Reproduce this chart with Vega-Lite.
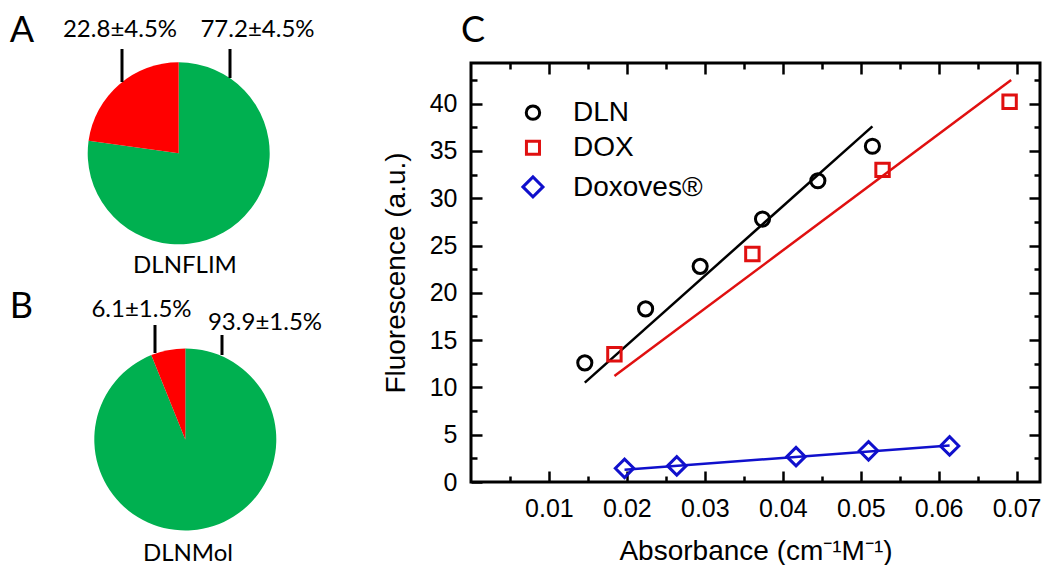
{
  "$schema": "https://vega.github.io/schema/vega-lite/v6.json",
  "padding": 0,
  "background": "white",
  "bounds": "flush",
  "center": true,
  "spacing": 131,
  "resolve": {"scale": {"color": "independent", "shape": "independent", "size": "independent", "stroke": "independent", "x": "independent", "y": "independent"}, "legend": {"color": "independent", "shape": "independent", "size": "independent", "stroke": "independent"}},
  "datasets": {
    "pies": [
      {"panel": "A", "name": "DLNFLIM", "state": "major", "value": 77.2, "label": "77.2±4.5%"},
      {"panel": "A", "name": "DLNFLIM", "state": "minor", "value": 22.8, "label": "22.8±4.5%"},
      {"panel": "B", "name": "DLNMol", "state": "major", "value": 93.9, "label": "93.9±1.5%"},
      {"panel": "B", "name": "DLNMol", "state": "minor", "value": 6.1, "label": "6.1±1.5%"}
    ],
    "points": [
      {"series": "DLN", "absorbance": 0.0146, "fluorescence": 12.6},
      {"series": "DLN", "absorbance": 0.0224, "fluorescence": 18.3},
      {"series": "DLN", "absorbance": 0.0294, "fluorescence": 22.8},
      {"series": "DLN", "absorbance": 0.0374, "fluorescence": 27.8},
      {"series": "DLN", "absorbance": 0.0445, "fluorescence": 31.85},
      {"series": "DLN", "absorbance": 0.0515, "fluorescence": 35.5},
      {"series": "DOX", "absorbance": 0.0184, "fluorescence": 13.5},
      {"series": "DOX", "absorbance": 0.0361, "fluorescence": 24.1},
      {"series": "DOX", "absorbance": 0.0528, "fluorescence": 33.0},
      {"series": "DOX", "absorbance": 0.0691, "fluorescence": 40.2},
      {"series": "Doxoves®", "absorbance": 0.0197, "fluorescence": 1.45},
      {"series": "Doxoves®", "absorbance": 0.0264, "fluorescence": 1.7},
      {"series": "Doxoves®", "absorbance": 0.0417, "fluorescence": 2.68},
      {"series": "Doxoves®", "absorbance": 0.0510, "fluorescence": 3.3},
      {"series": "Doxoves®", "absorbance": 0.0614, "fluorescence": 3.81}
    ],
    "fits": [
      {"series": "DLN", "absorbance": 0.0146, "fluorescence": 10.5},
      {"series": "DLN", "absorbance": 0.0515, "fluorescence": 37.6},
      {"series": "DOX", "absorbance": 0.0184, "fluorescence": 11.2},
      {"series": "DOX", "absorbance": 0.0693, "fluorescence": 42.5},
      {"series": "Doxoves®", "absorbance": 0.0197, "fluorescence": 1.3},
      {"series": "Doxoves®", "absorbance": 0.0614, "fluorescence": 3.85}
    ]
  },
  "hconcat": [
    {
      "width": 340,
      "height": 545,
      "view": {"stroke": null},
      "data": {"name": "pies"},
      "layer": [
        {
          "transform": [{"filter": "datum.panel == 'A'"}],
          "mark": {"type": "arc", "outerRadius": 91},
          "encoding": {
            "theta": {"field": "value", "type": "quantitative", "stack": true},
            "order": {"field": "value", "type": "quantitative", "sort": "descending"},
            "color": {"field": "state", "type": "nominal", "scale": {"domain": ["major", "minor"], "range": ["#00b050", "#ff0000"]}, "legend": null},
            "x": {"datum": 178.7, "type": "quantitative", "scale": {"domain": [0, 340], "nice": false, "zero": false}, "axis": null},
            "y": {"datum": 153.3, "type": "quantitative", "scale": {"domain": [0, 545], "reverse": true, "nice": false, "zero": false}, "axis": null}
          }
        },
        {
          "transform": [{"filter": "datum.panel == 'B'"}],
          "mark": {"type": "arc", "outerRadius": 91},
          "encoding": {
            "theta": {"field": "value", "type": "quantitative", "stack": true},
            "order": {"field": "value", "type": "quantitative", "sort": "descending"},
            "color": {"field": "state", "type": "nominal", "legend": null},
            "x": {"datum": 185.3, "type": "quantitative"},
            "y": {"datum": 439.5, "type": "quantitative"}
          }
        },
        {
          "transform": [{"filter": "datum.panel == 'A' && datum.state == 'minor'"}],
          "mark": {"type": "text", "font": "Lato", "fontSize": 36, "align": "center", "baseline": "alphabetic", "color": "black"},
          "encoding": {"text": {"field": "panel"}, "x": {"datum": 22, "type": "quantitative"}, "y": {"datum": 42, "type": "quantitative"}}
        },
        {
          "transform": [{"filter": "datum.panel == 'B' && datum.state == 'minor'"}],
          "mark": {"type": "text", "font": "Lato", "fontSize": 36, "align": "center", "baseline": "alphabetic", "color": "black"},
          "encoding": {"text": {"field": "panel"}, "x": {"datum": 21.5, "type": "quantitative"}, "y": {"datum": 318, "type": "quantitative"}}
        },
        {
          "transform": [{"filter": "datum.panel == 'A' && datum.state == 'minor'"}],
          "mark": {"type": "text", "font": "Lato", "fontSize": 36, "align": "center", "baseline": "alphabetic", "color": "black", "text": "C"},
          "encoding": {"x": {"datum": 473, "type": "quantitative"}, "y": {"datum": 42, "type": "quantitative"}}
        },
        {
          "transform": [{"filter": "datum.panel == 'A' && datum.state == 'minor'"}],
          "mark": {"type": "text", "font": "Lato", "fontSize": 24, "align": "center", "baseline": "alphabetic", "color": "black"},
          "encoding": {"text": {"field": "label"}, "x": {"datum": 120, "type": "quantitative"}, "y": {"datum": 37, "type": "quantitative"}}
        },
        {
          "transform": [{"filter": "datum.panel == 'A' && datum.state == 'major'"}],
          "mark": {"type": "text", "font": "Lato", "fontSize": 24, "align": "center", "baseline": "alphabetic", "color": "black"},
          "encoding": {"text": {"field": "label"}, "x": {"datum": 257.5, "type": "quantitative"}, "y": {"datum": 37, "type": "quantitative"}}
        },
        {
          "transform": [{"filter": "datum.panel == 'B' && datum.state == 'minor'"}],
          "mark": {"type": "text", "font": "Lato", "fontSize": 24, "align": "center", "baseline": "alphabetic", "color": "black"},
          "encoding": {"text": {"field": "label"}, "x": {"datum": 141.5, "type": "quantitative"}, "y": {"datum": 317, "type": "quantitative"}}
        },
        {
          "transform": [{"filter": "datum.panel == 'B' && datum.state == 'major'"}],
          "mark": {"type": "text", "font": "Lato", "fontSize": 24, "align": "center", "baseline": "alphabetic", "color": "black"},
          "encoding": {"text": {"field": "label"}, "x": {"datum": 265, "type": "quantitative"}, "y": {"datum": 330, "type": "quantitative"}}
        },
        {
          "transform": [{"filter": "datum.panel == 'A' && datum.state == 'major'"}],
          "mark": {"type": "text", "font": "Lato", "fontSize": 24, "align": "center", "baseline": "alphabetic", "color": "black"},
          "encoding": {"text": {"field": "name"}, "x": {"datum": 185, "type": "quantitative"}, "y": {"datum": 272.5, "type": "quantitative"}}
        },
        {
          "transform": [{"filter": "datum.panel == 'B' && datum.state == 'major'"}],
          "mark": {"type": "text", "font": "Lato", "fontSize": 24, "align": "center", "baseline": "alphabetic", "color": "black"},
          "encoding": {"text": {"field": "name"}, "x": {"datum": 188, "type": "quantitative"}, "y": {"datum": 561, "type": "quantitative"}}
        },
        {
          "transform": [{"filter": "datum.panel == 'A' && datum.state == 'minor'"}],
          "mark": {"type": "rule", "strokeWidth": 3, "color": "black"},
          "encoding": {"x": {"datum": 122, "type": "quantitative"}, "y": {"datum": 49, "type": "quantitative"}, "y2": {"datum": 82}}
        },
        {
          "transform": [{"filter": "datum.panel == 'A' && datum.state == 'major'"}],
          "mark": {"type": "rule", "strokeWidth": 3, "color": "black"},
          "encoding": {"x": {"datum": 230, "type": "quantitative"}, "y": {"datum": 49, "type": "quantitative"}, "y2": {"datum": 78}}
        },
        {
          "transform": [{"filter": "datum.panel == 'B' && datum.state == 'minor'"}],
          "mark": {"type": "rule", "strokeWidth": 3, "color": "black"},
          "encoding": {"x": {"datum": 155, "type": "quantitative"}, "y": {"datum": 325, "type": "quantitative"}, "y2": {"datum": 353}}
        },
        {
          "transform": [{"filter": "datum.panel == 'B' && datum.state == 'major'"}],
          "mark": {"type": "rule", "strokeWidth": 3, "color": "black"},
          "encoding": {"x": {"datum": 222, "type": "quantitative"}, "y": {"datum": 335, "type": "quantitative"}, "y2": {"datum": 355}}
        }
      ]
    },
    {
      "width": 569,
      "height": 419,
      "view": {"stroke": "black", "strokeWidth": 3},
      "resolve": {"axis": {"x": "independent", "y": "independent"}},
      "layer": [
        {
          "data": {"name": "fits"},
          "mark": {"type": "line", "strokeWidth": 2.5},
          "encoding": {
            "x": {"field": "absorbance", "type": "quantitative", "scale": {"domain": [0, 0.073], "nice": false, "zero": false},
              "axis": {"orient": "top", "values": [0.005, 0.01, 0.015, 0.02, 0.025, 0.03, 0.035, 0.04, 0.045, 0.05, 0.055, 0.06, 0.065, 0.07], "domain": false, "grid": false, "labels": false, "title": null, "tickColor": "black", "tickWidth": 2.5,
                "tickSize": {"condition": {"test": "abs(datum.value*100 - round(datum.value*100)) < 0.01", "value": -11}, "value": -6}}},
            "y": {"field": "fluorescence", "type": "quantitative", "scale": {"domain": [0, 44.3], "nice": false, "zero": false},
              "axis": {"orient": "right", "values": [2.5, 5, 7.5, 10, 12.5, 15, 17.5, 20, 22.5, 25, 27.5, 30, 32.5, 35, 37.5, 40, 42.5], "domain": false, "grid": false, "labels": false, "title": null, "tickColor": "black", "tickWidth": 2.5,
                "tickSize": {"condition": {"test": "datum.value % 5 == 0", "value": -11}, "value": -6}}},
            "stroke": {"field": "series", "type": "nominal", "scale": {"domain": ["DLN", "DOX", "Doxoves®"], "range": ["#000000", "#e01010", "#1010cc"]}, "legend": null}
          }
        },
        {
          "data": {"name": "points"},
          "mark": {"type": "point", "filled": false, "strokeWidth": 3, "opacity": 1},
          "encoding": {
            "x": {"field": "absorbance", "type": "quantitative",
              "axis": {"orient": "bottom", "values": [0.005, 0.01, 0.015, 0.02, 0.025, 0.03, 0.035, 0.04, 0.045, 0.05, 0.055, 0.06, 0.065, 0.07], "domain": false, "grid": false, "tickColor": "black", "tickWidth": 2.5,
                "tickSize": {"condition": {"test": "abs(datum.value*100 - round(datum.value*100)) < 0.01", "value": -11}, "value": -6},
                "labelExpr": "abs(datum.value*100 - round(datum.value*100)) < 0.01 ? format(datum.value, '.2f') : ''",
                "labelFont": "Liberation Sans", "labelFontSize": 25, "labelColor": "black", "labelPadding": 25, "labelOverlap": false, "labelFlush": false,
                "title": "Absorbance (cm⁻¹M⁻¹)", "titleFont": "Liberation Sans", "titleFontSize": 28, "titleFontWeight": "normal", "titleColor": "black", "titlePadding": 11}},
            "y": {"field": "fluorescence", "type": "quantitative",
              "axis": {"orient": "left", "values": [0, 2.5, 5, 7.5, 10, 12.5, 15, 17.5, 20, 22.5, 25, 27.5, 30, 32.5, 35, 37.5, 40, 42.5], "domain": false, "grid": false, "tickColor": "black", "tickWidth": 2.5,
                "tickSize": {"condition": {"test": "datum.value % 5 == 0", "value": -11}, "value": -6},
                "labelExpr": "datum.value % 5 == 0 ? format(datum.value, 'd') : ''",
                "labelFont": "Liberation Sans", "labelFontSize": 25, "labelColor": "black", "labelPadding": 25, "labelOverlap": false, "labelFlush": false,
                "title": "Fluorescence (a.u.)", "titleFont": "Liberation Sans", "titleFontSize": 28, "titleFontWeight": "normal", "titleColor": "black", "titlePadding": 19}},
            "size": {"field": "series", "type": "nominal", "scale": {"type": "ordinal", "domain": ["DLN", "DOX", "Doxoves®"], "range": [200, 180, 340]}, "legend": null},
            "color": {"field": "series", "type": "nominal", "scale": {"domain": ["DLN", "DOX", "Doxoves®"], "range": ["#000000", "#e01010", "#1010cc"]}, "legend": null},
            "shape": {"field": "series", "type": "nominal", "scale": {"domain": ["DLN", "DOX", "Doxoves®"], "range": ["circle", "square", "diamond"]}, "legend": null}
          }
        },
        {
          "data": {"name": "points"},
          "transform": [{"aggregate": [{"op": "count", "as": "n"}], "groupby": ["series"]}, {"filter": "datum.series == 'DLN'"}],
          "mark": {"type": "point", "filled": false, "strokeWidth": 3, "opacity": 1, "size": 180},
          "encoding": {
            "x": {"datum": 0.00795, "type": "quantitative", "axis": null},
            "y": {"datum": 39.05, "type": "quantitative", "axis": null},
            "color": {"field": "series", "type": "nominal", "legend": null},
            "shape": {"field": "series", "type": "nominal", "legend": null}
          }
        },
        {
          "data": {"name": "points"},
          "transform": [{"aggregate": [{"op": "count", "as": "n"}], "groupby": ["series"]}, {"filter": "datum.series == 'DOX'"}],
          "mark": {"type": "point", "filled": false, "strokeWidth": 3, "opacity": 1, "size": 170},
          "encoding": {
            "x": {"datum": 0.00795, "type": "quantitative", "axis": null},
            "y": {"datum": 35.34, "type": "quantitative", "axis": null},
            "color": {"field": "series", "type": "nominal", "legend": null},
            "shape": {"field": "series", "type": "nominal", "legend": null}
          }
        },
        {
          "data": {"name": "points"},
          "transform": [{"aggregate": [{"op": "count", "as": "n"}], "groupby": ["series"]}, {"filter": "datum.series == 'Doxoves®'"}],
          "mark": {"type": "point", "filled": false, "strokeWidth": 3, "opacity": 1, "size": 400},
          "encoding": {
            "x": {"datum": 0.00795, "type": "quantitative", "axis": null},
            "y": {"datum": 31.2, "type": "quantitative", "axis": null},
            "color": {"field": "series", "type": "nominal", "legend": null},
            "shape": {"field": "series", "type": "nominal", "legend": null}
          }
        },
        {
          "data": {"name": "points"},
          "transform": [{"aggregate": [{"op": "count", "as": "n"}], "groupby": ["series"]}, {"filter": "datum.series == 'DLN'"}],
          "mark": {"type": "text", "font": "Liberation Sans", "fontSize": 28, "align": "left", "baseline": "alphabetic", "color": "black"},
          "encoding": {
            "text": {"field": "series"},
            "x": {"datum": 0.01308, "type": "quantitative", "axis": null},
            "y": {"datum": 38.13, "type": "quantitative", "axis": null}
          }
        },
        {
          "data": {"name": "points"},
          "transform": [{"aggregate": [{"op": "count", "as": "n"}], "groupby": ["series"]}, {"filter": "datum.series == 'DOX'"}],
          "mark": {"type": "text", "font": "Liberation Sans", "fontSize": 28, "align": "left", "baseline": "alphabetic", "color": "black"},
          "encoding": {
            "text": {"field": "series"},
            "x": {"datum": 0.01308, "type": "quantitative", "axis": null},
            "y": {"datum": 34.42, "type": "quantitative", "axis": null}
          }
        },
        {
          "data": {"name": "points"},
          "transform": [{"aggregate": [{"op": "count", "as": "n"}], "groupby": ["series"]}, {"filter": "datum.series == 'Doxoves®'"}],
          "mark": {"type": "text", "font": "Liberation Sans", "fontSize": 28, "align": "left", "baseline": "alphabetic", "color": "black"},
          "encoding": {
            "text": {"field": "series"},
            "x": {"datum": 0.01308, "type": "quantitative", "axis": null},
            "y": {"datum": 30.19, "type": "quantitative", "axis": null}
          }
        }
      ]
    }
  ]
}
